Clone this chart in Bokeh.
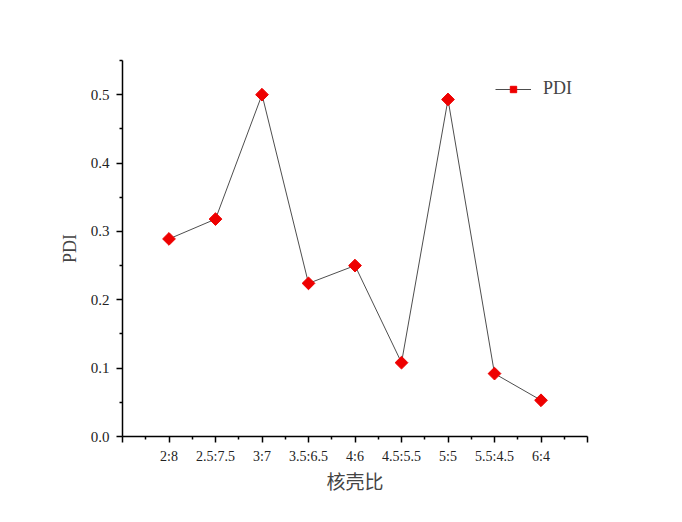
import math
from bokeh.plotting import figure
from bokeh.models import FixedTicker, Legend, LegendItem, CustomJSTickFormatter, Range1d
from bokeh.embed import file_html
from bokeh.resources import INLINE

ratios = ["2:8", "2.5:7.5", "3:7", "3.5:6.5", "4:6", "4.5:5.5", "5:5", "5.5:4.5", "6:4"]
pdi = [0.289, 0.318, 0.500, 0.224, 0.250, 0.108, 0.493, 0.092, 0.053]
y_ticks = [0.0, 0.1, 0.2, 0.3, 0.4, 0.5]
y_minor = [0.05, 0.15, 0.25, 0.35, 0.45, 0.55]

xpos = list(range(1, len(ratios) + 1))

p = figure(width=666, height=506, output_backend="svg", toolbar_location=None,
           x_range=Range1d(0, 10), y_range=Range1d(0, 0.55),
           min_border_left=122, min_border_right=79, min_border_top=60, min_border_bottom=70)
p.outline_line_color = None
p.grid.visible = False
p.background_fill_color = "white"
p.border_fill_color = "white"

ln = p.line(xpos, pdi, line_color="black", line_width=0.7)
mk = p.scatter(xpos, pdi, marker="square", angle=math.pi / 4, size=9,
               fill_color="#ee0000", line_color="#ee0000")

xa = p.xaxis[0]
xa.ticker = FixedTicker(ticks=list(range(0, 11)), minor_ticks=[i + 0.5 for i in range(10)])
ov = {i + 1: r for i, r in enumerate(ratios)}
ov.update({0: "", 10: ""})
xa.major_label_overrides = ov
xa.axis_label = "核壳比"
xa.axis_label_text_font = "Noto Sans CJK SC"
xa.axis_label_text_font_style = "normal"
xa.axis_label_text_font_size = "19px"
xa.axis_label_standoff = 0
xa.major_label_text_font = "Liberation Serif"
xa.major_label_text_font_size = "14px"
xa.major_label_standoff = 6

ya = p.yaxis[0]
ya.ticker = FixedTicker(ticks=y_ticks, minor_ticks=y_minor)
ya.formatter = CustomJSTickFormatter(code="return tick.toFixed(1);")
ya.axis_label = "PDI"
ya.axis_label_text_font = "Liberation Serif"
ya.axis_label_text_font_style = "normal"
ya.axis_label_text_font_size = "18px"
ya.axis_label_standoff = 8
ya.major_label_text_font = "Liberation Serif"
ya.major_label_text_font_size = "15px"
ya.major_label_standoff = 7

for ax in (xa, ya):
    ax.axis_line_width = 1.5
    ax.major_tick_line_width = 1.5
    ax.minor_tick_line_width = 1.5
    ax.major_tick_out = 6
    ax.major_tick_in = 0
    ax.minor_tick_out = 3
    ax.minor_tick_in = 0
    ax.major_label_text_color = "#222222"

legend = Legend(items=[LegendItem(label="PDI", renderers=[ln, mk])],
                location=(373, 337))
legend.border_line_color = None
legend.background_fill_alpha = 0
legend.padding = 0
legend.margin = 0
legend.glyph_width = 36
legend.glyph_height = 16
legend.label_height = 16
legend.label_standoff = 12
legend.label_text_font = "Liberation Serif"
legend.label_text_font_size = "18px"
p.add_layout(legend, "center")

open("out.html", "w").write(file_html(p, INLINE))
